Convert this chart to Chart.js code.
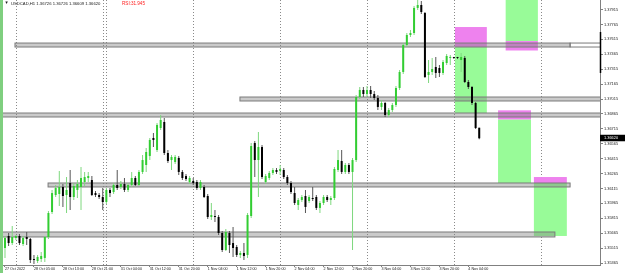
<!DOCTYPE html>
<html><head><meta charset="utf-8">
<script src="https://cdn.jsdelivr.net/npm/chart.js@4.4.0/dist/chart.umd.min.js"></script>
<style>html,body{margin:0;padding:0;background:#fff;overflow:hidden}canvas{display:block}</style>
</head><body>
<canvas id="c" width="625" height="273"></canvas>
<script>
// ---- data (H1 bars, index 0 = 27 Oct 2022 21:00) ----
const symbolTitle = 'USDCAD,H1 1.36726 1.36726 1.36609 1.36620';
const indicatorText = 'RSI:31.945';
const openP = [1.35516,1.35637,1.35566,1.35617,1.35637,1.35556,1.35627,1.35607,1.35405,1.35385,1.35405,1.35416,1.35627,1.35878,1.36049,1.36059,1.36130,1.36049,1.36170,1.36029,1.36100,1.36130,1.36180,1.36220,1.36200,1.36069,1.36049,1.36029,1.35979,1.36100,1.36079,1.36150,1.36130,1.36160,1.36100,1.36150,1.36220,1.36150,1.36281,1.36351,1.36442,1.36623,1.36502,1.36723,1.36784,1.36472,1.36401,1.36381,1.36422,1.36281,1.36240,1.36180,1.36190,1.36180,1.36120,1.36130,1.36039,1.35828,1.35838,1.35828,1.35667,1.35496,1.35667,1.35566,1.35526,1.35446,1.35466,1.35446,1.35838,1.36572,1.36401,1.36532,1.36180,1.36220,1.36271,1.36301,1.36291,1.36301,1.36230,1.36170,1.36069,1.35949,1.35999,1.36039,1.35989,1.36019,1.36029,1.35919,1.35969,1.36029,1.35999,1.36019,1.36301,1.36391,1.36281,1.36351,1.36281,1.36401,1.37035,1.37106,1.37065,1.37106,1.37065,1.37025,1.36935,1.36975,1.36854,1.36904,1.36955,1.37126,1.37287,1.37558,1.37659,1.37679,1.37931,1.37961,1.37880,1.37257,1.37287,1.37337,1.37327,1.37277,1.37377,1.37428,1.37428,1.37428,1.37407,1.37428,1.37186,1.37136,1.36975,1.36726];
const highP = [1.35637,1.35667,1.35737,1.35647,1.35657,1.35637,1.35677,1.35617,1.35446,1.35446,1.35476,1.35637,1.35888,1.36100,1.36150,1.36291,1.36160,1.36230,1.36301,1.36170,1.36200,1.36331,1.36281,1.36281,1.36240,1.36090,1.36069,1.36120,1.36120,1.36120,1.36170,1.36301,1.36190,1.36220,1.36170,1.36281,1.36240,1.36301,1.36452,1.36522,1.36623,1.36673,1.36774,1.36854,1.36824,1.36502,1.36452,1.36452,1.36442,1.36301,1.36261,1.36240,1.36220,1.36200,1.36200,1.36150,1.36059,1.35969,1.35898,1.35848,1.35687,1.35707,1.35687,1.35727,1.35546,1.35486,1.35566,1.35868,1.36572,1.36593,1.36683,1.36552,1.36261,1.36291,1.36321,1.36321,1.36351,1.36321,1.36251,1.36190,1.36130,1.36019,1.36049,1.36100,1.36049,1.36130,1.36049,1.35989,1.36049,1.36049,1.36039,1.36331,1.36502,1.36502,1.36371,1.36371,1.36422,1.37055,1.37136,1.37136,1.37146,1.37146,1.37096,1.37055,1.37005,1.36985,1.36925,1.36975,1.37146,1.37307,1.37578,1.37679,1.37709,1.37951,1.38011,1.38001,1.37890,1.37407,1.37428,1.37438,1.37357,1.37407,1.37468,1.37458,1.37438,1.37438,1.37478,1.37448,1.37206,1.37146,1.36985,1.36726];
const lowP = [1.35416,1.35536,1.35546,1.35597,1.35546,1.35536,1.35546,1.35365,1.35355,1.35365,1.35375,1.35375,1.35607,1.35858,1.36029,1.35939,1.35929,1.35868,1.35898,1.35999,1.36019,1.35898,1.36140,1.36180,1.36039,1.36029,1.36009,1.35898,1.35959,1.36029,1.36059,1.36100,1.36110,1.36079,1.36079,1.36130,1.36140,1.36140,1.36261,1.36281,1.36401,1.36532,1.36482,1.36703,1.36452,1.36371,1.36301,1.36361,1.36251,1.36200,1.36190,1.36160,1.36150,1.36100,1.36100,1.36019,1.35808,1.35798,1.35778,1.35647,1.35476,1.35486,1.35466,1.35426,1.35426,1.35416,1.35395,1.35416,1.35818,1.36230,1.36029,1.36210,1.36160,1.36200,1.36251,1.36261,1.36251,1.36210,1.36150,1.36059,1.35949,1.35898,1.35979,1.35868,1.35969,1.35989,1.35898,1.35868,1.35949,1.35979,1.35949,1.35999,1.36281,1.36261,1.36261,1.36261,1.35496,1.36381,1.37015,1.37035,1.37035,1.37025,1.37005,1.36904,1.36904,1.36834,1.36834,1.36884,1.36935,1.37106,1.37267,1.37538,1.37639,1.37659,1.37910,1.37870,1.37226,1.37176,1.37257,1.37226,1.37236,1.37257,1.37357,1.37357,1.37417,1.37417,1.37287,1.37176,1.37116,1.36955,1.36713,1.36609];
const closeP = [1.35617,1.35566,1.35627,1.35637,1.35566,1.35617,1.35607,1.35395,1.35395,1.35426,1.35436,1.35627,1.35868,1.36069,1.36120,1.36130,1.36039,1.36100,1.36029,1.36140,1.36160,1.36220,1.36230,1.36240,1.36049,1.36049,1.36029,1.35979,1.36100,1.36069,1.36150,1.36120,1.36160,1.36100,1.36150,1.36220,1.36150,1.36281,1.36401,1.36482,1.36603,1.36603,1.36754,1.36804,1.36472,1.36391,1.36432,1.36432,1.36281,1.36220,1.36210,1.36220,1.36170,1.36120,1.36180,1.36029,1.35828,1.35848,1.35828,1.35667,1.35496,1.35677,1.35546,1.35516,1.35446,1.35466,1.35436,1.35848,1.36542,1.36401,1.36532,1.36230,1.36240,1.36271,1.36301,1.36281,1.36311,1.36230,1.36170,1.36079,1.35969,1.35999,1.36029,1.35929,1.36029,1.36009,1.35919,1.35969,1.36029,1.35999,1.36019,1.36311,1.36401,1.36281,1.36351,1.36281,1.36401,1.37035,1.37106,1.37065,1.37106,1.37065,1.37025,1.36935,1.36975,1.36854,1.36904,1.36955,1.37126,1.37287,1.37558,1.37659,1.37679,1.37931,1.37961,1.37890,1.37236,1.37287,1.37317,1.37277,1.37277,1.37387,1.37448,1.37438,1.37428,1.37428,1.37438,1.37186,1.37136,1.36975,1.36723,1.36620];

const xTickIndex  = [0,8,16,24,32,40,48,56,64,72,80,88,96,104,112,120,128];
const xTickLabels = ['27 Oct 2022','28 Oct 05:00','28 Oct 13:00','28 Oct 21:00','31 Oct 04:00','31 Oct 12:00','31 Oct 20:00','1 Nov 04:00','1 Nov 12:00','1 Nov 20:00','2 Nov 04:00','2 Nov 12:00','2 Nov 20:00','3 Nov 04:00','3 Nov 12:00','3 Nov 20:00','4 Nov 04:00'];
const yTicks = [1.37915,1.37765,1.37615,1.37465,1.37315,1.37165,1.37015,1.36865,1.36715,1.36565,1.36415,1.36265,1.36115,1.35965,1.35815,1.35665,1.35515,1.35365];
const daySeparators = [3,27,28,52,76,100,124,148];
// rectangles: [fromIndex, toIndex, upperPrice, lowerPrice]
const grayBands = [[2.76,156.1,1.37578,1.37538],[64.9,170,1.37035,1.36995],[-2,170,1.36874,1.36834],[11.9,156.1,1.36170,1.36130],[-2,151.9,1.35677,1.35627]];
const outlineBands = [[156.1,170,1.37578,1.37538]];
const greenZones  = [[124.3,133.1,1.37538,1.36874],[138.3,147.2,1.3810,1.37598],[136.2,145.3,1.36810,1.36170],[146.1,155.2,1.36170,1.35637]];
const violetZones = [[124.3,133.1,1.37739,1.37538],[138.3,147.2,1.37598,1.37503],[136.2,145.3,1.36901,1.36810],[146.1,155.2,1.36230,1.36170]];
const axisMarkRange = [1.37689,1.37277];

// ---- chart ----
const FONT = 'Liberation Sans';
const bodies = openP.map((o,i)=>({x:i, y:[o, closeP[i]]}));
const wicks = lowP.map((l,i)=>({x:i, y:[l, highP[i]]}));
const up = openP.map((o,i)=>closeP[i] > o);

function rectPx(ch, r){
  const xs = ch.scales.x, ys = ch.scales.y;
  const x1 = xs.getPixelForValue(r[0]), x2 = xs.getPixelForValue(r[1]);
  const y1 = ys.getPixelForValue(r[2]), y2 = ys.getPixelForValue(r[3]);
  return [x1, y1, x2 - x1, y2 - y1];
}

const backPlugin = {
  id: 'back',
  beforeDraw(ch){
    const c = ch.ctx;
    c.save(); c.fillStyle = '#fff'; c.fillRect(0,0,ch.width,ch.height);
    c.fillStyle = '#7fcf7f'; c.fillRect(0,0,3,ch.height); c.restore();
  },
  beforeDatasetsDraw(ch){
    const c = ch.ctx, a = ch.chartArea, xs = ch.scales.x;
    c.save();
    c.beginPath(); c.rect(a.left, 0, a.right - a.left, a.bottom); c.clip();
    // day separators
    c.strokeStyle = '#8a8a8a'; c.lineWidth = 1; c.setLineDash([1,2]);
    daySeparators.forEach(v=>{
      const x = Math.round(xs.getPixelForValue(v)) + 0.5;
      c.beginPath(); c.moveTo(x, 0); c.lineTo(x, a.bottom); c.stroke();
    });
    c.setLineDash([]);
    greenZones.forEach(r=>{ const p = rectPx(ch,r); c.fillStyle = '#98fb98'; c.fillRect(p[0],p[1],p[2],p[3]); });
    violetZones.forEach(r=>{ const p = rectPx(ch,r); c.fillStyle = '#ee82ee'; c.fillRect(p[0],p[1],p[2],p[3]); });
    grayBands.forEach(r=>{
      const p = rectPx(ch,r);
      c.fillStyle = 'rgba(128,128,128,0.42)'; c.fillRect(p[0],p[1],p[2],p[3]);
      c.strokeStyle = '#7a7a7a'; c.strokeRect(p[0],p[1],p[2],p[3]);
    });
    outlineBands.forEach(r=>{
      const p = rectPx(ch,r);
      c.strokeStyle = '#7a7a7a'; c.strokeRect(p[0],p[1],p[2],p[3]);
    });
    c.restore();
  },
  afterDraw(ch){
    const c = ch.ctx, ys = ch.scales.y, a = ch.chartArea;
    c.save();
    // marker on price axis
    c.strokeStyle = '#000'; c.lineWidth = 1.5;
    c.beginPath(); c.moveTo(a.right + 0.5, ys.getPixelForValue(axisMarkRange[0]));
    c.lineTo(a.right + 0.5, ys.getPixelForValue(axisMarkRange[1])); c.stroke();
    // current price label
    const last = closeP[closeP.length - 1];
    const py = ys.getPixelForValue(last);
    c.fillStyle = '#000'; c.fillRect(a.right, py - 3.5, ch.width - a.right, 6.5);
    c.fillStyle = '#fff'; c.font = '3.9px "' + FONT + '"'; c.textBaseline = 'middle'; c.textAlign = 'left';
    c.fillText(last.toFixed(5), a.right + 4, py);
    // title
    c.fillStyle = '#202020'; c.font = '4.2px "' + FONT + '"';
    c.fillText('\u25BC', 4.5, 3.2);
    c.fillText(symbolTitle, 11, 3.5);
    c.fillStyle = '#ff2020'; c.font = '4.6px "' + FONT + '"';
    c.fillText(indicatorText, 122, 3.5);
    c.restore();
  }
};

new Chart(document.getElementById('c'), {
  type: 'bar',
  data: {
    datasets: [
      { data: bodies, order: 0, grouped: false, barThickness: 2, minBarLength: 1, inflateAmount: 0,
        backgroundColor: up.map(u => u ? '#32cd32' : '#000000'), borderWidth: 0 },
      { data: wicks, order: 1, grouped: false, barThickness: 1, inflateAmount: 0,
        backgroundColor: up.map(u => u ? '#7ed87e' : '#555555'), borderWidth: 0 }
    ]
  },
  options: {
    responsive: false, animation: false, devicePixelRatio: 1,
    layout: { padding: { left: 3, top: 0, right: 0, bottom: 0 } },
    plugins: { legend: { display: false }, tooltip: { enabled: false } },
    scales: {
      x: {
        type: 'linear', min: -0.55, max: 164.36, offset: false,
        grid: { drawOnChartArea: false, drawTicks: true, tickLength: 2, color: '#808080', offset: false },
        border: { display: true, color: '#808080' },
        afterBuildTicks: s => { s.ticks = xTickIndex.map(v => ({ value: v })); },
        afterFit: s => { s.height = 8; s.paddingLeft = 0; s.paddingRight = 0; },
        ticks: { autoSkip: false, maxRotation: 0, align: 'start', padding: 0, color: '#202020',
          font: { family: FONT, size: 3.7 }, callback: (v, i) => xTickLabels[i] }
      },
      y: {
        type: 'linear', position: 'right', min: 1.35345, max: 1.38011,
        grid: { drawOnChartArea: false, drawTicks: true, tickLength: 3, color: '#808080' },
        border: { display: true, color: '#808080' },
        afterBuildTicks: s => { s.ticks = yTicks.map(v => ({ value: v })); },
        afterFit: s => { s.width = 25; s.paddingTop = 0; s.paddingBottom = 0; },
        ticks: { autoSkip: false, padding: 1, color: '#202020', font: { family: FONT, size: 3.9 },
          callback: v => Number(v).toFixed(5) }
      }
    }
  },
  plugins: [backPlugin]
});
</script>
</body></html>
